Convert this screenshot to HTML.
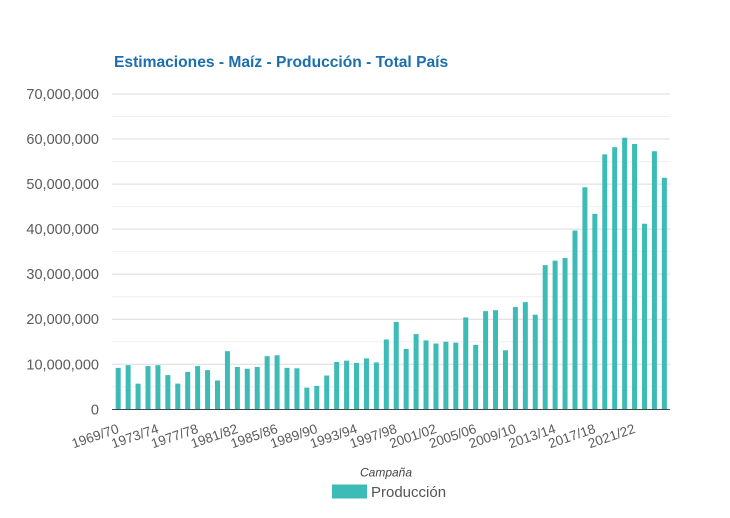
<!DOCTYPE html>
<html>
<head>
<meta charset="utf-8">
<style>
  html,body{margin:0;padding:0;background:#fff;}
  body{width:730px;height:518px;overflow:hidden;}
  svg{display:block;font-family:"Liberation Sans",Arial,sans-serif;}
</style>
</head>
<body>
<svg width="730" height="518" viewBox="0 0 730 518" xmlns="http://www.w3.org/2000/svg">
  <rect x="0" y="0" width="730" height="518" fill="#fff"/>
  <text x="114" y="67" font-size="15.6" font-weight="bold" fill="#1b6fae">Estimaciones - Maíz - Producción - Total País</text>

  <g stroke="#efefef" stroke-width="1">
    <line x1="112" x2="670" y1="386.78" y2="386.78"/>
    <line x1="112" x2="670" y1="341.74" y2="341.74"/>
    <line x1="112" x2="670" y1="296.7" y2="296.7"/>
    <line x1="112" x2="670" y1="251.66" y2="251.66"/>
    <line x1="112" x2="670" y1="206.62" y2="206.62"/>
    <line x1="112" x2="670" y1="161.58" y2="161.58"/>
    <line x1="112" x2="670" y1="116.54" y2="116.54"/>
  </g>
  <g stroke="#dcdcdc" stroke-width="1">
    <line x1="112" x2="670" y1="364.26" y2="364.26"/>
    <line x1="112" x2="670" y1="319.22" y2="319.22"/>
    <line x1="112" x2="670" y1="274.18" y2="274.18"/>
    <line x1="112" x2="670" y1="229.14" y2="229.14"/>
    <line x1="112" x2="670" y1="184.1" y2="184.1"/>
    <line x1="112" x2="670" y1="139.06" y2="139.06"/>
    <line x1="112" x2="670" y1="94.02" y2="94.02"/>
  </g>

  <g font-size="14.5" fill="#5a5a5a" text-anchor="end">
    <text x="99" y="414.3">0</text>
    <text x="99" y="369.26">10,000,000</text>
    <text x="99" y="324.22">20,000,000</text>
    <text x="99" y="279.18">30,000,000</text>
    <text x="99" y="234.14">40,000,000</text>
    <text x="99" y="189.1">50,000,000</text>
    <text x="99" y="144.06">60,000,000</text>
    <text x="99" y="99.02">70,000,000</text>
  </g>

  <g fill="#3dbbb6">
    <rect x="115.70" y="367.86" width="5" height="41.44"/>
    <rect x="125.63" y="365.16" width="5" height="44.14"/>
    <rect x="135.56" y="383.63" width="5" height="25.67"/>
    <rect x="145.49" y="366.06" width="5" height="43.24"/>
    <rect x="155.42" y="365.16" width="5" height="44.14"/>
    <rect x="165.35" y="375.07" width="5" height="34.23"/>
    <rect x="175.28" y="383.63" width="5" height="25.67"/>
    <rect x="185.21" y="371.92" width="5" height="37.38"/>
    <rect x="195.14" y="366.06" width="5" height="43.24"/>
    <rect x="205.07" y="370.12" width="5" height="39.18"/>
    <rect x="215.00" y="380.47" width="5" height="28.83"/>
    <rect x="224.93" y="351.20" width="5" height="58.10"/>
    <rect x="234.86" y="366.96" width="5" height="42.34"/>
    <rect x="244.79" y="368.76" width="5" height="40.54"/>
    <rect x="254.72" y="366.96" width="5" height="42.34"/>
    <rect x="264.65" y="356.15" width="5" height="53.15"/>
    <rect x="274.58" y="355.25" width="5" height="54.05"/>
    <rect x="284.51" y="367.86" width="5" height="41.44"/>
    <rect x="294.44" y="368.31" width="5" height="40.99"/>
    <rect x="304.37" y="387.68" width="5" height="21.62"/>
    <rect x="314.30" y="385.88" width="5" height="23.42"/>
    <rect x="324.23" y="375.52" width="5" height="33.78"/>
    <rect x="334.16" y="362.01" width="5" height="47.29"/>
    <rect x="344.09" y="360.66" width="5" height="48.64"/>
    <rect x="354.02" y="362.91" width="5" height="46.39"/>
    <rect x="363.95" y="358.40" width="5" height="50.90"/>
    <rect x="373.88" y="362.46" width="5" height="46.84"/>
    <rect x="383.81" y="339.49" width="5" height="69.81"/>
    <rect x="393.74" y="321.92" width="5" height="87.38"/>
    <rect x="403.67" y="348.95" width="5" height="60.35"/>
    <rect x="413.60" y="334.08" width="5" height="75.22"/>
    <rect x="423.53" y="340.39" width="5" height="68.91"/>
    <rect x="433.46" y="343.54" width="5" height="65.76"/>
    <rect x="443.39" y="341.74" width="5" height="67.56"/>
    <rect x="453.32" y="342.64" width="5" height="66.66"/>
    <rect x="463.25" y="317.42" width="5" height="91.88"/>
    <rect x="473.18" y="344.89" width="5" height="64.41"/>
    <rect x="483.11" y="311.11" width="5" height="98.19"/>
    <rect x="493.04" y="310.21" width="5" height="99.09"/>
    <rect x="502.97" y="350.30" width="5" height="59.00"/>
    <rect x="512.90" y="307.06" width="5" height="102.24"/>
    <rect x="522.83" y="302.10" width="5" height="107.20"/>
    <rect x="532.76" y="314.72" width="5" height="94.58"/>
    <rect x="542.69" y="265.17" width="5" height="144.13"/>
    <rect x="552.62" y="260.67" width="5" height="148.63"/>
    <rect x="562.55" y="257.97" width="5" height="151.33"/>
    <rect x="572.48" y="230.49" width="5" height="178.81"/>
    <rect x="582.41" y="187.25" width="5" height="222.05"/>
    <rect x="592.34" y="213.83" width="5" height="195.47"/>
    <rect x="602.27" y="154.37" width="5" height="254.93"/>
    <rect x="612.20" y="147.17" width="5" height="262.13"/>
    <rect x="622.13" y="137.71" width="5" height="271.59"/>
    <rect x="632.06" y="144.01" width="5" height="265.29"/>
    <rect x="641.99" y="223.74" width="5" height="185.56"/>
    <rect x="651.92" y="151.22" width="5" height="258.08"/>
    <rect x="661.85" y="177.79" width="5" height="231.51"/>
  </g>

  <line x1="112" x2="670" y1="409.5" y2="409.5" stroke="#444" stroke-width="1"/>

  <g font-size="13.5" fill="#5a5a5a" text-anchor="end">
    <g transform="translate(118.2,428) rotate(-19)"><text x="0" y="4.7">1969/70</text></g>
    <g transform="translate(157.92,428) rotate(-19)"><text x="0" y="4.7">1973/74</text></g>
    <g transform="translate(197.64,428) rotate(-19)"><text x="0" y="4.7">1977/78</text></g>
    <g transform="translate(237.36,428) rotate(-19)"><text x="0" y="4.7">1981/82</text></g>
    <g transform="translate(277.08,428) rotate(-19)"><text x="0" y="4.7">1985/86</text></g>
    <g transform="translate(316.8,428) rotate(-19)"><text x="0" y="4.7">1989/90</text></g>
    <g transform="translate(356.52,428) rotate(-19)"><text x="0" y="4.7">1993/94</text></g>
    <g transform="translate(396.24,428) rotate(-19)"><text x="0" y="4.7">1997/98</text></g>
    <g transform="translate(435.96,428) rotate(-19)"><text x="0" y="4.7">2001/02</text></g>
    <g transform="translate(475.68,428) rotate(-19)"><text x="0" y="4.7">2005/06</text></g>
    <g transform="translate(515.4,428) rotate(-19)"><text x="0" y="4.7">2009/10</text></g>
    <g transform="translate(555.12,428) rotate(-19)"><text x="0" y="4.7">2013/14</text></g>
    <g transform="translate(594.84,428) rotate(-19)"><text x="0" y="4.7">2017/18</text></g>
    <g transform="translate(634.56,428) rotate(-19)"><text x="0" y="4.7">2021/22</text></g>
  </g>

  <text x="386" y="476.5" font-size="12" font-style="italic" fill="#444" text-anchor="middle">Campaña</text>

  <rect x="332" y="484.5" width="35" height="14" fill="#3dbbb6"/>
  <text x="371" y="497" font-size="15" fill="#555">Producción</text>
</svg>
</body>
</html>
